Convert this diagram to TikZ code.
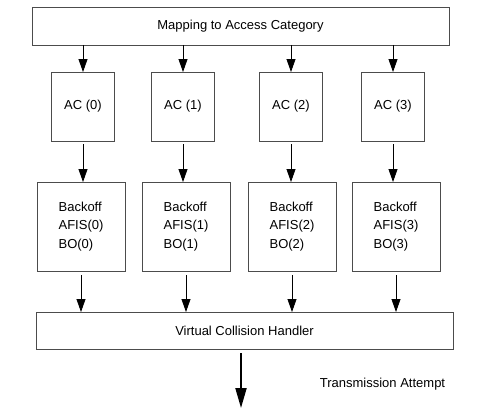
\documentclass[tikz,border=0pt]{standalone}
\usepackage{fontspec}
\setmainfont{Liberation Sans}
\usetikzlibrary{arrows.meta}
\tikzset{
  box/.style={draw=black!70, line width=0.8pt, inner sep=0pt, outer sep=0pt, font=\fontsize{13}{18.5}\selectfont},
  acbox/.style={box, minimum width=63pt, minimum height=69pt},
  bobox/.style={box, minimum width=88pt, minimum height=89pt, align=left},
  wide/.style={box, minimum width=417pt, minimum height=38pt},
  arr/.style={-{Triangle[length=13pt,width=9pt]}, line width=0.8pt},
}
\begin{document}
\begin{tikzpicture}[x=1pt, y=-1pt]
\useasboundingbox (0,0) rectangle (486,412);
\node[wide] (map) at (240.5,26) {Mapping to Access Category};
\node[acbox] (ac0) at (83,106.5) {AC (0)};
\node[acbox] (ac1) at (183,106.5) {AC (1)};
\node[acbox] (ac2) at (291,106.5) {AC (2)};
\node[acbox] (ac3) at (393,106.5) {AC (3)};
\node[bobox] (bo0) at (81,226.5) {Backoff\\AFIS(0)\\BO(0)};
\node[bobox] (bo1) at (186,226.5) {Backoff\\AFIS(1)\\BO(1)};
\node[bobox] (bo2) at (292,226.5) {Backoff\\AFIS(2)\\BO(2)};
\node[bobox] (bo3) at (396,226.5) {Backoff\\AFIS(3)\\BO(3)};
\node[wide, minimum height=37pt] (vch) at (244.5,330.5) {Virtual Collision Handler};
\coordinate (tx) at (241,408);
\node[font=\fontsize{13}{15}\selectfont] (txl) at (382.5,384) {Transmission Attempt};
\draw[arr] (map.south -| ac0) -- (ac0);
\draw[arr] (map.south -| ac1) -- (ac1);
\draw[arr] (map.south -| ac2) -- (ac2);
\draw[arr] (map.south -| ac3) -- (ac3);
\draw[arr, shorten <=3pt] (ac0) -- (ac0 |- bo0.north);
\draw[arr, shorten <=3pt] (ac1) -- (ac1 |- bo1.north);
\draw[arr, shorten <=3pt] (ac2) -- (ac2 |- bo2.north);
\draw[arr, shorten <=3pt] (ac3) -- (ac3 |- bo3.north);
\draw[arr, shorten <=4pt] (bo0) -- (bo0 |- vch.north);
\draw[arr, shorten <=4pt] (bo1) -- (bo1 |- vch.north);
\draw[arr, shorten <=4pt] (bo2) -- (bo2 |- vch.north);
\draw[arr, shorten <=4pt] (bo3) -- (bo3 |- vch.north);
\draw[-{Triangle[length=20pt,width=11pt]}, line width=2pt, shorten <=4pt] (vch.south -| tx) -- (tx);
\end{tikzpicture}
\end{document}
